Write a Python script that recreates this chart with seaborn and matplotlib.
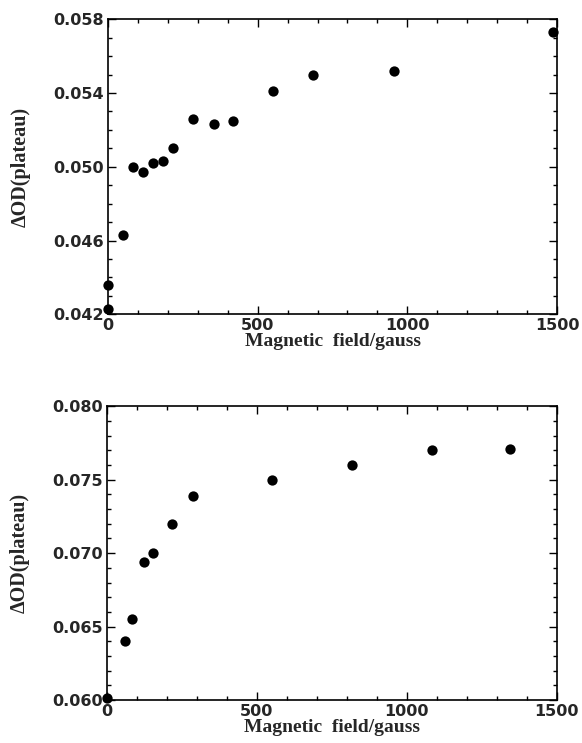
import matplotlib
matplotlib.use("Agg")
import matplotlib.pyplot as plt
import seaborn as sns
import pandas as pd
from matplotlib.ticker import MultipleLocator, FormatStrFormatter

# Data
field_top = [0, 0, 50, 83, 118, 151, 185, 216, 283, 353, 417, 552, 686, 956, 1487]
od_top = [0.0423, 0.0436, 0.0463, 0.0500, 0.0497, 0.0502, 0.0503, 0.0510,
          0.0526, 0.0523, 0.0525, 0.0541, 0.0550, 0.0552, 0.0573]

field_bot = [0, 60, 83, 123, 152, 217, 286, 551, 817, 1083, 1343]
od_bot = [0.0601, 0.0640, 0.0655, 0.0694, 0.0700, 0.0720, 0.0739, 0.0750,
          0.0760, 0.0770, 0.0771]

yticks_top = [0.042, 0.046, 0.050, 0.054, 0.058]
yticks_bot = [0.060, 0.065, 0.070, 0.075, 0.080]
xticks = [0, 500, 1000, 1500]

xlabel = "Magnetic  field/gauss"
ylabel = "ΔOD(plateau)"

sns.set_style("ticks")
plt.rcParams['font.family'] = ['DejaVu Sans']

fig = plt.figure(figsize=(5.82, 7.43), dpi=100)
ax1 = fig.add_axes([0.1856, 0.577, 0.7715, 0.397])
ax2 = fig.add_axes([0.1838, 0.058, 0.773, 0.395])

df_top = pd.DataFrame({"field": field_top, "od": od_top})
df_bot = pd.DataFrame({"field": field_bot, "od": od_bot})

xlabel_font = dict(family="Liberation Serif", weight="bold", size=14)
ylabel_font = dict(family="Liberation Serif", weight="bold", size=14.5)

for ax, df, yt in [(ax1, df_top, yticks_top), (ax2, df_bot, yticks_bot)]:
    sns.scatterplot(data=df, x="field", y="od", ax=ax, color="black",
                    s=55, edgecolor="black", linewidth=0, clip_on=False)
    ax.set_xlim(xticks[0], xticks[-1])
    ax.set_ylim(yt[0], yt[-1])
    ax.set_xticks(xticks)
    ax.set_yticks(yt)
    ax.xaxis.set_minor_locator(MultipleLocator(100))
    ax.yaxis.set_minor_locator(MultipleLocator(0.001))
    ax.yaxis.set_major_formatter(FormatStrFormatter("%.3f"))
    ax.tick_params(which="both", direction="in", top=True, right=True,
                   width=1, color="black")
    ax.tick_params(which="major", length=6, labelsize=11.5, pad=3)
    ax.tick_params(which="minor", length=3)
    for lab in ax.get_xticklabels() + ax.get_yticklabels():
        lab.set_fontweight("bold")
    for sp in ax.spines.values():
        sp.set_visible(True)
        sp.set_linewidth(1.2)
        sp.set_color("black")
    ax.set_xlabel(xlabel, fontdict=xlabel_font, labelpad=0)
    ax.set_ylabel(ylabel, fontdict=ylabel_font, labelpad=16)

fig.savefig("out.png", dpi=100, facecolor="white")
